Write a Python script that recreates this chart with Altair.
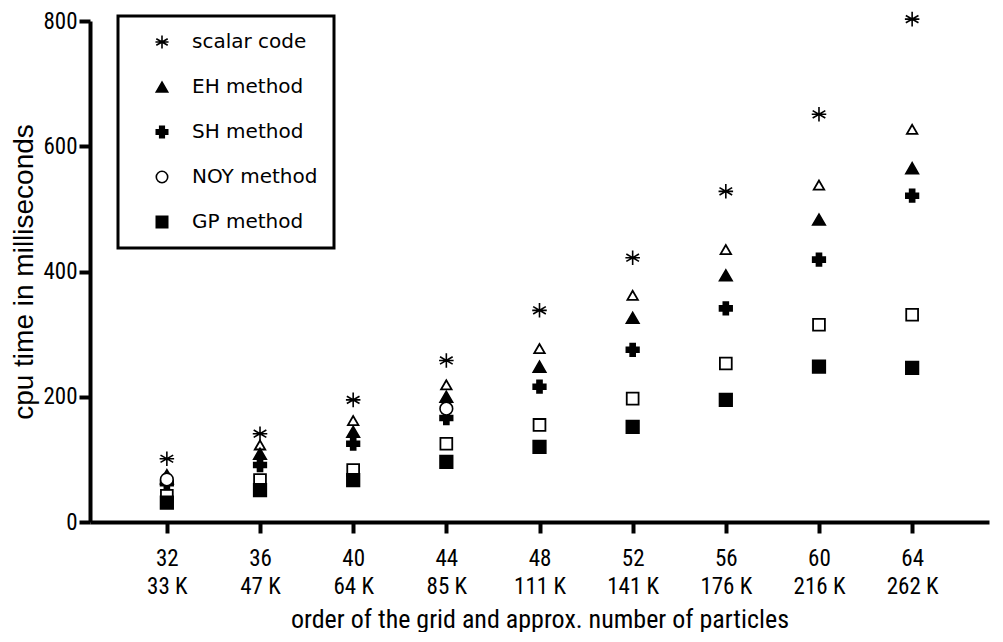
import altair as alt
import pandas as pd

# ---- data ----
grid = [32, 36, 40, 44, 48, 52, 56, 60, 64]
particles = ["33 K", "47 K", "64 K", "85 K", "111 K", "141 K", "176 K", "216 K", "262 K"]

scalar_code = [101, 141, 195, 258, 338, 422, 528, 651, 803]
eh_method = [70, 109, 144, 200, 248, 326, 394, 483, 565]
sh_method = [62, 91, 125, 166, 216, 275, 341, 419, 521]
noy_grid = [32, 44]
noy_method = [68, 181]
gp_method = [31, 51, 67, 96, 120, 152, 195, 248, 246]
open_triangle = [76, 123, 162, 219, 277, 362, 435, 538, 627]
open_square = [42, 67, 83, 125, 155, 197, 253, 315, 331]

series_names = ["scalar code", "EH method", "SH method", "NOY method", "GP method"]

rows = []
for g, v in zip(grid, scalar_code):
    rows.append({"grid": g, "cpu": v, "series": "scalar code"})
for g, v in zip(grid, eh_method):
    rows.append({"grid": g, "cpu": v, "series": "EH method"})
for g, v in zip(grid, sh_method):
    rows.append({"grid": g, "cpu": v, "series": "SH method"})
for g, v in zip(noy_grid, noy_method):
    rows.append({"grid": g, "cpu": v, "series": "NOY method"})
for g, v in zip(grid, gp_method):
    rows.append({"grid": g, "cpu": v, "series": "GP method"})
main_df = pd.DataFrame(rows)

tri_df = pd.DataFrame({"grid": grid, "cpu": open_triangle})
sq_df = pd.DataFrame({"grid": grid, "cpu": open_square})

NARROW = "Roboto Condensed, Liberation Sans Narrow, DejaVu Sans Condensed, Liberation Sans, sans-serif"
REGULAR = "Liberation Sans, Arial, sans-serif"
LEGEND_FONT = "DejaVu Sans, sans-serif"

asterisk = "M0,-1.15L0,1.15M-1,-0.58L1,0.58M-1,0.58L1,-0.58M-1.15,0L1.15,0"

grid_js = "[" + ",".join(str(g) for g in grid) + "]"
part_js = "[" + ",".join("'" + p + "'" for p in particles) + "]"
label_expr = "[datum.label, " + part_js + "[indexof(" + grid_js + ", datum.value)]]"

x_enc = alt.X(
    "grid:Q",
    scale=alt.Scale(domain=[28.7, 67.3], nice=False, zero=False),
    axis=alt.Axis(
        values=grid,
        labelExpr=label_expr,
        title="order of the grid and approx. number of particles",
        labelLineHeight=28,
        labelPadding=14,
        titlePadding=8,
        titleFontSize=26,
    ),
)
y_enc = alt.Y(
    "cpu:Q",
    scale=alt.Scale(domain=[0, 800], nice=False),
    axis=alt.Axis(
        values=[0, 200, 400, 600, 800],
        title="cpu time in milliseconds",
        titleFont=REGULAR,
        titleFontSize=28,
        labelPadding=2,
        titlePadding=4,
    ),
)

open_tri_layer = alt.Chart(tri_df).mark_point(
    shape="triangle-up", filled=False, stroke="black", strokeWidth=1.8, size=110, opacity=1
).encode(x=x_enc, y=y_enc)

open_sq_layer = alt.Chart(sq_df).mark_point(
    shape="square", filled=False, stroke="black", strokeWidth=1.8, size=140, opacity=1
).encode(x=x_enc, y=y_enc)

leg = alt.Legend(title=None, symbolStrokeWidth=1.6)

main_layer = alt.Chart(main_df).mark_point(
    filled=True, strokeWidth=1.6, size=160, opacity=1
).encode(
    x=x_enc,
    y=y_enc,
    shape=alt.Shape(
        "series:N",
        scale=alt.Scale(domain=series_names,
                        range=[asterisk, "triangle-up", "cross", "circle", "square"]),
        legend=leg,
    ),
    fill=alt.Fill(
        "series:N",
        scale=alt.Scale(domain=series_names,
                        range=["black", "black", "black", "white", "black"]),
        legend=leg,
    ),
    stroke=alt.Stroke(
        "series:N",
        scale=alt.Scale(domain=series_names,
                        range=["black", "black", "black", "black", "black"]),
        legend=leg,
    ),
)

chart = alt.layer(open_tri_layer, open_sq_layer, main_layer).properties(
    width=984,
    height=624,
    autosize=alt.AutoSizeParams(type="fit", contains="padding"),
    padding={"left": 2, "top": 0, "right": 3, "bottom": 0},
).configure_view(
    stroke=None
).configure_axis(
    domainColor="black",
    domainWidth=4,
    tickColor="black",
    tickWidth=4,
    tickSize=11,
    grid=False,
    labelFont=NARROW,
    labelFontSize=23,
    labelColor="black",
    titleFont=NARROW,
    titleFontSize=24,
    titleFontWeight="normal",
    titleColor="black",
).configure_legend(
    orient="none",
    legendX=28,
    legendY=-5,
    strokeColor="black",
    strokeWidth=3,
    fillColor="white",
    padding=16,
    rowPadding=25,
    symbolSize=130,
    symbolOffset=18,
    labelOffset=20,
    labelFont=LEGEND_FONT,
    labelFontSize=20,
    labelColor="black",
    symbolOpacity=1,
)

chart.save("out.html", embed_options={"renderer": "svg", "actions": False})
